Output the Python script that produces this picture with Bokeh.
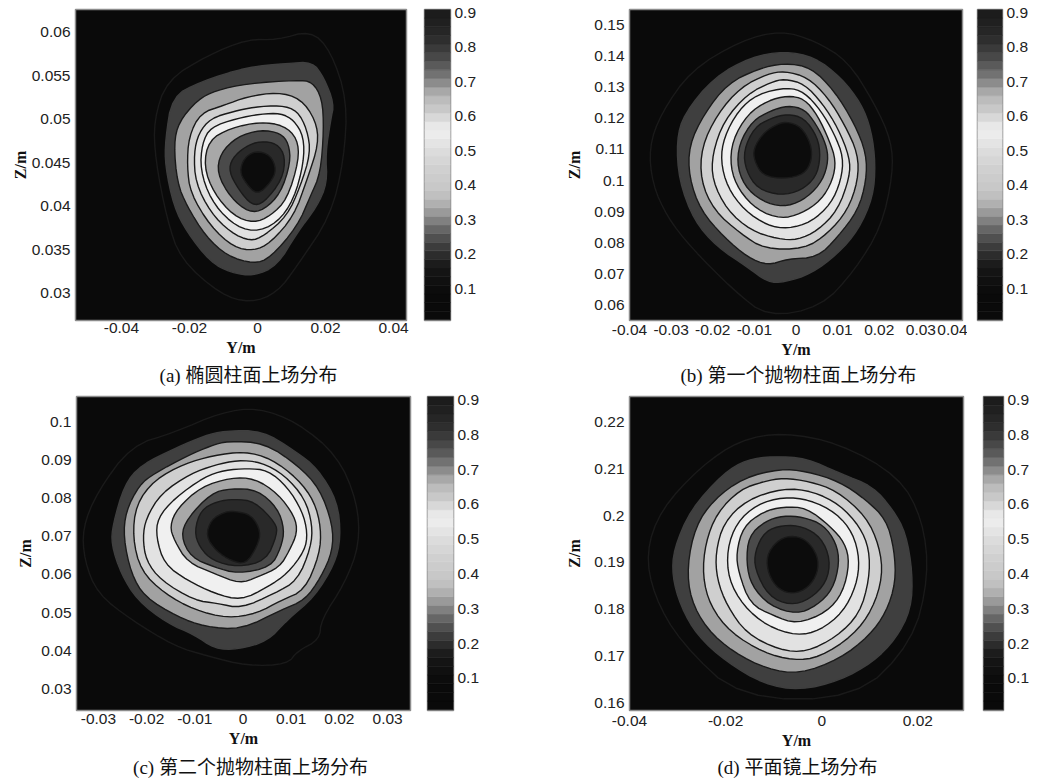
from bokeh.plotting import figure
from bokeh.layouts import row, column
from bokeh.models import Range1d, FixedTicker, Label
from bokeh.embed import file_html
from bokeh.resources import INLINE

# Contours, in millimetres (Y, Z); outermost level first.
A_Y = [
 [15.6,21.5,26.4,25.4,21.5,11.7,5.8,-2.1,-10.9,-22.6,-26.6,-30,-30.5,-26.6,-14.8,-3,5.8],
 [16.1,19.5,22.5,21.5,20,20.5,17.5,11.7,5.8,-1.1,-7.9,-13.8,-20.7,-24.6,-27.1,-27.1,-25.1,-16.8,-3,8.7],
 [16.1,19,19.5,18.5,15.6,11.7,3.8,-1.1,-8.9,-15.3,-20.7,-23.6,-24.6,-23.1,-17.7,-12.4,-3,11.7],
 [5.8,12.6,17.1,18,14.6,10.7,3.8,-1.1,-7,-13.8,-19.7,-20.7,-20.2,-16.8,-9.9,-3],
 [6.8,11.7,14.6,15.6,12.6,8.7,1.9,-2.1,-7.9,-13.8,-18.2,-18.7,-17.3,-13.8,-7,-1.1],
 [6.8,10.7,13.6,13.6,10.7,5.8,-1.1,-7.9,-13.8,-16.8,-16.3,-13.8,-6,0.9],
 [0.9,7.7,11.7,12.2,8.7,3.8,-1.1,-7,-12.8,-15.8,-14.3,-7.9],
 [0.9,6.8,9.2,9.7,6.8,1.9,-2.5,-7.9,-11.9,-10.9,-6],
 [0.9,5.8,8.2,7.3,1.9,-1.6,-5.5,-8.4,-7.5,-3.5],
 [-0.6,3.8,5.6,3.8,-0.1,-3.5,-5.2,-4],
]
A_Z = [
 [60.2,57.9,52.2,45.3,38.9,33.2,30.1,28.9,29.9,33.9,38.5,45.3,49.9,54.5,57.3,59.2,59.1],
 [56.6,54.8,51.8,49.9,46.1,42.7,40,37,33.2,32,32.4,33.6,37,40,44.6,47.6,52.6,54.3,56,56.4],
 [54.3,52.4,48.8,43.8,41.2,37.7,34.1,33.4,34.3,36.6,40,42.7,47.2,49.7,52.2,53.3,54.1,54.5],
 [53.1,52.4,49.9,47.2,43.1,38.9,35.8,34.9,35.3,37.7,41.5,44.6,48,50.7,51.6,52.6],
 [51.6,51,48.8,46.1,42.3,38.9,36.6,36,37,39.3,42.7,46.1,48.4,50.1,50.9,51.4],
 [50.7,49.9,48,45,40.8,38.1,37,38.1,40.8,44.2,47.2,49.1,50.1,50.6],
 [49.7,49.3,47.8,45.3,40.8,38.9,38.1,38.9,41.5,44.6,47.6,49],
 [48.8,48.4,47.2,45,41.5,39.6,39.3,41,43.8,46.1,48],
 [47.5,47.2,45.7,43.1,40.4,40.1,41.9,44,45.5,46.9],
 [46.4,45.9,44.2,42.7,41.3,42.7,44,45.5],
]
B_Y = [
 [-3.6,4.4,12.4,18.9,22.9,23.3,20.5,14.1,6,-6.8,-14.9,-25.3,-30.9,-34.5,-35.3,-32.5,-25.3,-13.3],
 [-2.8,4.4,10.8,15.7,18.1,19.1,18.5,14.9,10,3.6,-2.8,-6.8,-11.6,-18.9,-24.5,-28.1,-28.7,-26.9,-19.7,-10.8],
 [-2.8,3.6,9.2,14.1,16.9,16.9,14.9,10,5.2,-2,-6.8,-11.6,-17.3,-22.9,-25.7,-25.7,-22.1,-16.5,-9.2],
 [-2.8,2.8,7.6,11.6,14.9,14.9,12.4,7.6,2,-7.6,-13.3,-19.7,-22.9,-22.7,-18.9,-13.3,-6.8],
 [-2.8,2,6.4,10,12.9,12.9,10,5.2,0.4,-4.4,-10.8,-16.5,-20.1,-20.1,-17.3,-11.6,-6],
 [-2,2,6,9.2,11.4,10.8,8.4,3.6,-2,-6.8,-12.4,-16.5,-18.1,-17.3,-13.9,-9.2],
 [-2,2,5.2,8,9.6,8.8,6,1.2,-3.6,-9.2,-13.7,-15.8,-15.3,-11.6,-6.8],
 [-2,2,4.8,7.2,7.8,6.4,2.8,-2,-6.8,-11.6,-14.1,-13.7,-10.4,-6],
 [-2,2,5.2,5.9,4.8,1.2,-3.6,-9.2,-12,-12.6,-10,-6],
 [-2.4,1.2,3.6,3.8,2,-2.8,-8,-10,-10.2,-8,-5.2],
]
B_Z = [
 [148.2,145,138.6,124.7,112.9,102.1,85,71.1,59.3,56.1,64.6,78.6,88.2,98.9,110.7,121.4,135.4,145],
 [141.6,139.7,133.2,124.7,116.1,105.4,94.6,83.9,76.4,70,67.3,67.3,72.1,78.6,87.1,100,112.9,121.4,133.2,139.7],
 [137.8,136.4,128.9,118.2,108.6,100,90.4,81.8,75.3,74.8,72.7,75.3,81.8,90.4,101.1,111.3,121.4,131.1,135.9],
 [135.2,133.2,126.8,118.2,108.6,100,90.4,82.9,78,78,82.9,90.4,100,110.7,121.4,130,134.3],
 [132.7,131.1,124.7,117.1,107.5,101.1,90.4,83.9,80.9,81.2,83.9,90.4,100,108.6,119.3,127.9,131.6],
 [130,128.4,122.5,115,107.5,100,92.5,86.6,84.5,85.5,90.4,97.9,106.4,113.9,122.5,127.9],
 [127.3,126.3,120.9,112.9,106.4,100,93.6,89.3,87.7,90.4,96.8,104.3,112.9,121.4,125.7],
 [124.1,123,118.2,111.8,106.4,100,94.6,91.6,92.5,96.8,103.8,111.8,119.3,122.5],
 [121.4,120.1,113.9,107.5,101.1,96.8,95.2,97.3,103.2,109.6,117.1,120.1],
 [119,117.4,111.8,106.4,102.1,100.5,101.6,106.4,110.2,115,117.7],
]
C_Y = [
 [3.0,11.3,19.6,23.7,24.2,21.1,16.2,15.9,11.3,9.2,0.9,-7.4,-14.2,-23.2,-30.2,-32.9,-33.3,-30.2,-23.2,-14.2,-4.6],
 [-3.8,4.0,10.7,15.5,19.6,20.3,19.0,14.8,9.2,5.1,-1.1,-5.9,-10.1,-15.7,-21.9,-25.3,-27.3,-27.0,-24.6,-21.2,-13.6,-8.0],
 [-3.2,4.5,11.3,15.9,18.6,18.6,16.2,12.8,7.9,-0.4,-8.0,-13.6,-20.4,-23.2,-24.8,-24.3,-21.5,-18.4,-11.5,-6.6],
 [0.3,5.8,11.3,14.8,16.2,15.9,12.8,7.9,3.0,-3.2,-10.1,-16.3,-21.2,-22.9,-22.2,-18.4,-12.1,-6.2],
 [-1.1,3.7,8.6,12.8,14.4,14.1,11.3,6.5,-0.4,-5.3,-10.1,-17.0,-20.1,-20.8,-20.1,-17.0,-10.8,-5.9],
 [0.9,5.1,9.2,12.3,13.4,12.8,9.2,5.1,-0.4,-5.9,-11.5,-16.3,-18.0,-17.7,-14.2,-8.0,-3.8],
 [-2.5,2.4,7.2,10.7,11.3,9.6,7.6,3.0,-0.7,-5.9,-11.5,-14.2,-15.2,-13.6,-8.7],
 [-2.5,3.0,7.2,8.6,7.9,5.8,-1.1,-5.9,-10.8,-12.9,-11.5,-6.6],
 [-1.8,2.4,6.8,7.1,4.8,-1.1,-6.3,-9.0,-10.1,-8.7,-5.3],
 [-1.8,1.7,3.7,3.0,0.6,-2.5,-5.6,-7.7,-6.6,-3.8],
]
C_Z = [
 [103.8,99.9,91.2,79.2,67.9,57.6,48.1,42.9,39.9,36.4,36,38.6,41.2,48.1,55,63.6,72.2,81.7,93.8,97.3,102.5],
 [97.7,97.7,92.5,87.8,79.2,69.7,62.7,54.1,48.1,42.5,40.3,40.5,44.2,47.2,53.2,60.2,67.9,73.1,83.5,88.7,93.4,96.4],
 [95,94.5,88.7,82.6,73.1,66.2,59.3,53.2,50.7,45.5,46.3,48.9,54.1,60.2,69.7,76.6,83.5,86.5,91.2,93.8],
 [92.3,90.4,85.2,79.2,72.2,65.3,55.8,53.2,49.8,48.5,50.7,55,61,69.7,78.3,84.8,89.1,91.2],
 [90,89.5,86.1,80,73.1,67.1,58.4,55,51.1,52.4,53.2,58.4,63.6,69.7,74.8,81.3,86.5,88.7],
 [87.8,87.4,83,76.6,70.9,66.2,60.2,56.7,53.2,55,58.4,62.7,69.7,74.8,80,85.6,87.4],
 [85.4,85.2,81.3,75.3,71,66.2,61.9,59.3,57.6,60.2,63.2,68.8,72.7,77.4,83],
 [82.6,82.2,77.4,71.8,67.1,61.9,60.2,61.9,64.5,70.1,74.8,81.3],
 [79.8,79.2,73.5,70.5,63.6,61.9,63.6,67.1,71.4,77,79.2],
 [76.6,75.7,71.4,67.5,62.7,63.6,66.2,70.1,74.4,76.4],
]
D_Y = [
 [-8,3.7,16.1,21,22.3,18.9,7.2,-17,-29.4,-34.9,-36.6,-33.5,-25.2,-17],
 [-10.1,-3.2,3.7,10.6,14.8,17.5,18.9,18.6,15.4,10.6,3.7,-4.6,-12.1,-19.7,-25.9,-29.4,-31.1,-30.8,-27.3,-20.4,-15.6],
 [-8.7,-3.2,3.7,9.2,13.4,15.1,15.4,13.4,9.9,3.7,-4.6,-11.4,-18.3,-23.9,-27.3,-28,-26.3,-22.5,-16.3],
 [-8,-2.5,3,9.2,12,12.7,10.6,6.5,-0.4,-5.9,-12.1,-19,-23.2,-24.8,-24.2,-21.8,-17,-12.1],
 [-8,-1.8,3.7,7.9,9.9,9.9,7.9,3,-3.2,-8.7,-15.6,-19.7,-21.8,-22.1,-20.4,-15.6],
 [-8,-2.5,3,6.5,7.9,7.2,4.4,-0.4,-5.2,-11.4,-16.3,-19.4,-19.7,-17.7,-13.5],
 [-8,-3.2,1.7,4.8,5.8,4.4,1,-5.2,-10.1,-14.9,-17.3,-17.8,-16.3,-12.1],
 [-8,-3.9,0.3,3,3.7,2.3,-1.1,-5.2,-10.8,-14.6,-15.7,-15.2,-11.8],
 [-8,-3.9,-0.1,1.8,1,-2.5,-6.6,-11.1,-13.9,-13.9,-11.8],
 [-6.6,-3.2,-0.8,-0.8,-2.8,-5.9,-9,-11.1,-11.5,-9.4],
]
D_Z = [
 [217.8,215.5,208.4,199.2,187.1,172.9,160.8,160.8,172.9,182.8,192.1,201.3,210.5,216.2],
 [212.7,212.3,209.1,206.3,201.3,196.3,187.8,180,173.6,168.6,164.7,162.6,164,168.6,174.3,180.7,187.1,192.8,201.3,209.1,212],
 [210,209.5,207.3,203.4,199.2,192.8,185.7,179.3,174.3,169.3,166.1,167.2,170.7,175.7,182.1,189.2,197.7,203.4,208.1],
 [208.1,207.3,205.4,199.9,193.5,187.1,180,174.3,169.7,169,170.7,175,180.7,187.1,194.2,200.6,205.6,207.3],
 [205.9,205.2,202.4,197.7,192.8,186.4,179,174,170.8,171.2,174.7,180.7,186.4,192.1,198.5,203.4],
 [204,203.4,200.6,196.3,190.6,185,179.3,175.4,174.3,176.4,180.7,186.4,192.8,198.5,202.4],
 [201.9,201.7,197.8,194.2,189.9,183.5,179.3,176.8,178.6,181.1,187.8,192.1,197.7,200.9],
 [200,199.7,198.1,194.2,189.9,184.2,180.7,178.9,180.7,185,189.9,195.6,198.8],
 [198,197.7,195.3,190.6,185.7,182.1,180.8,182.8,188.5,192.4,196.7],
 [195.8,194.9,191.4,187.8,184.6,183.2,184.2,187.4,191.4,194.5],
]

BAND_COLORS = ["#0a0a0a","#3f3f3f","#a2a2a2","#cfcfcf","#e2e2e2","#f0f0f0","#a8a8a8","#4a4a4a","#292929","#0c0c0c"]
LINE_COLORS = ["#1a1a1a","#3f3f3f","#1a1a1a","#1a1a1a","#1a1a1a","#1a1a1a","#1a1a1a","#1a1a1a","#1a1a1a","#1a1a1a"]

CB_TICKS = [0.1,0.2,0.3,0.4,0.5,0.6,0.7,0.8,0.9]
CB_VALUES = [0.01+0.025*i for i in range(36)]
CB_GREYS = [0x0a,0x0a,0x0a,0x0c,0x10,0x14,0x1c,0x2c,0x3c,0x50,0x66,0x80,0x9a,0xb0,0xc0,0xc8,0xcc,0xd0,
            0xd6,0xdc,0xe4,0xec,0xe8,0xd8,0xc8,0xbc,0xa8,0x8c,0x72,0x5a,0x48,0x3a,0x2e,0x26,0x20,0x1c]

A_XT = [-0.04,-0.02,0,0.02,0.04]; A_XL = ["-0.04","-0.02","0","0.02","0.04"]
A_YT = [0.03,0.035,0.04,0.045,0.05,0.055,0.06]; A_YL = ["0.03","0.035","0.04","0.045","0.05","0.055","0.06"]
B_XT = [-0.04,-0.03,-0.02,-0.01,0,0.01,0.02,0.03,0.04]; B_XL = ["-0.04","-0.03","-0.02","-0.01","0","0.01","0.02","0.03","0.04"]
B_YT = [0.06,0.07,0.08,0.09,0.1,0.11,0.12,0.13,0.14,0.15]; B_YL = ["0.06","0.07","0.08","0.09","0.1","0.11","0.12","0.13","0.14","0.15"]
C_XT = [-0.03,-0.02,-0.01,0,0.01,0.02,0.03]; C_XL = ["-0.03","-0.02","-0.01","0","0.01","0.02","0.03"]
C_YT = [0.03,0.04,0.05,0.06,0.07,0.08,0.09,0.1]; C_YL = ["0.03","0.04","0.05","0.06","0.07","0.08","0.09","0.1"]
D_XT = [-0.04,-0.02,0,0.02]; D_XL = ["-0.04","-0.02","0","0.02"]
D_YT = [0.16,0.17,0.18,0.19,0.2,0.21,0.22]; D_YL = ["0.16","0.17","0.18","0.19","0.2","0.21","0.22"]

CAPTIONS = ["(a) 椭圆柱面上场分布","(b) 第一个抛物柱面上场分布","(c) 第二个抛物柱面上场分布","(d) 平面镜上场分布"]

SANS = "Liberation Sans"
SERIF = "Liberation Serif, Noto Sans CJK SC"
OUT = "#8c8c8c"

def rounded(xs, ys, passes=2):
    # corner cutting, so that the drawn outline is curved like a contour
    for _ in range(passes):
        nx, ny = [], []
        for i in range(len(xs)):
            j = (i + 1) % len(xs)
            nx += [0.75*xs[i]+0.25*xs[j], 0.25*xs[i]+0.75*xs[j]]
            ny += [0.75*ys[i]+0.25*ys[j], 0.25*ys[i]+0.75*ys[j]]
        xs, ys = nx, ny
    return xs, ys

def panel(ys, zs, xr, yr, xt, xl, yt, yl, width, height, left, right, top, bottom, tick_off, lab_off, zlab_off):
    p = figure(width=width, height=height, x_range=Range1d(*xr), y_range=Range1d(*yr),
               output_backend="svg", toolbar_location=None,
               min_border_left=left, min_border_right=right, min_border_top=top, min_border_bottom=bottom,
               background_fill_color=BAND_COLORS[0], outline_line_color=OUT, outline_line_width=1.5)
    p.grid.visible = False
    for i, (cy, cz) in enumerate(zip(ys, zs)):
        sx, sz = rounded([v/1000 for v in cy], [v/1000 for v in cz])
        p.patch(sx, sz, fill_color=BAND_COLORS[i], line_color=LINE_COLORS[i], line_width=1.4)
    for ax, t, l, lab in ((p.xaxis[0], xt, xl, "Y/m"), (p.yaxis[0], yt, yl, "Z/m")):
        ax.ticker = FixedTicker(ticks=t)
        ax.major_label_overrides = dict(zip(t, l))
        ax.major_label_text_font = SANS
        ax.major_label_text_font_size = "15.5px"
        ax.major_label_text_color = "#222222"
        ax.major_label_standoff = tick_off
        ax.major_tick_in = 0
        ax.major_tick_out = 0
        ax.major_tick_line_color = None
        ax.minor_tick_line_color = None
        ax.axis_line_color = None
        ax.axis_label = lab
        ax.axis_label_text_font = "Liberation Serif"
        ax.axis_label_text_font_style = "bold"
        ax.axis_label_text_font_size = "16px"
        ax.axis_label_text_color = "#111111"
        ax.axis_label_standoff = lab_off
    p.yaxis[0].major_label_orientation = "horizontal"
    p.yaxis[0].major_label_standoff = 5
    p.yaxis[0].axis_label_standoff = zlab_off
    return p

def bar(width, height, left, right, top, bottom):
    p = figure(width=width, height=height, x_range=Range1d(0, 1), y_range=Range1d(0.008, 0.91),
               y_axis_location="right", output_backend="svg", toolbar_location=None,
               min_border_left=left, min_border_right=right, min_border_top=top, min_border_bottom=bottom,
               outline_line_color=OUT, outline_line_width=1.5)
    p.grid.visible = False
    p.xaxis.visible = False
    cols = ["#%02x%02x%02x" % (g, g, g) for g in CB_GREYS]
    p.quad(left=0, right=1, bottom=CB_VALUES, top=[v+0.025 for v in CB_VALUES],
           fill_color=cols, line_color=cols, line_width=0.6)
    ax = p.yaxis[0]
    ax.ticker = FixedTicker(ticks=CB_TICKS)
    ax.major_label_overrides = {t: str(t) for t in CB_TICKS}
    ax.major_label_text_font = SANS
    ax.major_label_text_font_size = "15.5px"
    ax.major_label_text_color = "#222222"
    ax.major_label_standoff = 4
    ax.major_tick_in = 0
    ax.major_tick_out = 0
    ax.major_tick_line_color = None
    ax.minor_tick_line_color = None
    ax.axis_line_color = None
    return p

def caption_strip(height, left_text, left_x, right_text, right_x, mid):
    p = figure(width=1032, height=height, x_range=Range1d(0, 1032), y_range=Range1d(0, height),
               output_backend="svg", toolbar_location=None, min_border=0, outline_line_color=None)
    p.grid.visible = False
    p.axis.visible = False
    for t, x in ((left_text, left_x), (right_text, right_x)):
        p.add_layout(Label(x=x, y=mid, text=t, text_align="center", text_baseline="middle",
                           text_font=SERIF, text_font_size="19px", text_color="#111111"))
    return p

pa = panel(A_Y, A_Z, (-0.0535,0.0438), (0.0269,0.0626), A_XT, A_XL, A_YT, A_YL, 412, 364, 75, 6, 9, 42, 2, 3, 0)
ba = bar(116, 364, 12, 78, 9, 42)
pb = panel(B_Y, B_Z, (-0.04,0.04), (0.055,0.155), B_XT, B_XL, B_YT, B_YL, 439, 364, 101, 5, 9, 44, 4, 3, 8)
bb = bar(65, 364, 10, 30, 9, 44)
pc = panel(C_Y, C_Z, (-0.03454,0.03475), (0.0243,0.1067), C_XT, C_XL, C_YT, C_YL, 417, 366, 76, 7, 6, 43, 3, 3, 4)
bc = bar(111, 366, 10, 75, 6, 42)
pd = panel(D_Y, D_Z, (-0.04,0.0295), (0.1583,0.2255), D_XT, D_XL, D_YT, D_YL, 439, 366, 101, 4, 6, 46, 5, 3, 8)
bd = bar(65, 366, 16, 27, 3, 45)

cap1 = caption_strip(26, CAPTIONS[0], 248, CAPTIONS[1], 798, 15)
cap2 = caption_strip(22, CAPTIONS[2], 250, CAPTIONS[3], 797, 11)

page = column(row(pa, ba, pb, bb), cap1, row(pc, bc, pd, bd), cap2)
open("out.html", "w").write(file_html(page, INLINE))
